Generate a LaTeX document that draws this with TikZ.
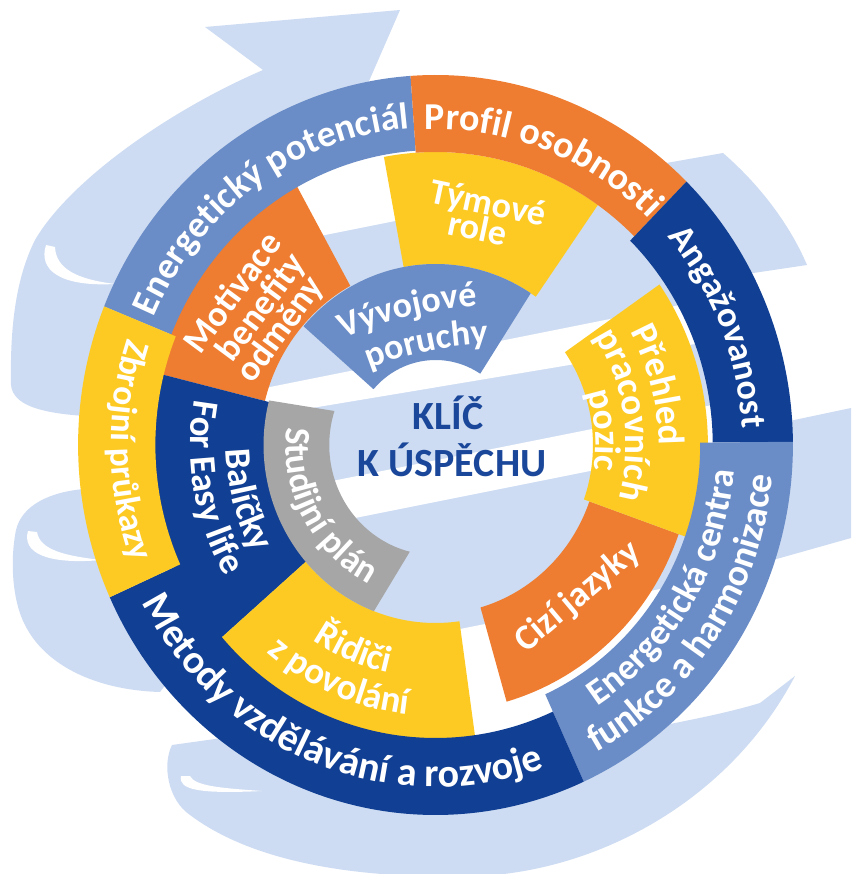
\documentclass[tikz,border=0pt]{standalone}
\usepackage{fontspec}
\setmainfont{Carlito}
\usetikzlibrary{decorations.text}
\definecolor{lb}{HTML}{CDDCF2}
\definecolor{mb}{HTML}{6A8CC7}
\definecolor{db}{HTML}{113F93}
\definecolor{orr}{HTML}{EE7D31}
\definecolor{yl}{HTML}{FDCA24}
\definecolor{gr}{HTML}{A6A6A6}
\definecolor{kt}{HTML}{1A4799}
% sector: color, a1, a2, rout, rin
\newcommand\sector[5]{\fill[#1] (#2:#4) arc[start angle=#2,end angle=#3,radius=#4] -- (#3:#5) arc[start angle=#3,end angle=#2,radius=#5] -- cycle;}
% clockwise text (tops outward): centre angle, baseline radius, text, size
\newcommand\cwtext[4]{\path[decorate,decoration={text along path,text align=center,text color=white,text={|\fontsize{#4}{#4}\selectfont\bfseries|#3}}] ({#1+70}:#2) arc[start angle={#1+70},end angle={#1-70},radius=#2];}
% counter-clockwise text (tops inward)
\newcommand\ccwtext[4]{\path[decorate,decoration={text along path,text align=center,text color=white,text={|\fontsize{#4}{#4}\selectfont\bfseries|#3}}] ({#1-70}:#2) arc[start angle={#1-70},end angle={#1+70},radius=#2];}
\tikzset{
  segtext/.style={text=white,font=\fontsize{36}{30}\selectfont\bfseries,inner sep=0pt,align=center},
  keytext/.style={text=kt,font=\fontsize{40}{44}\selectfont\bfseries,inner sep=0pt}
}
\begin{document}
\begin{tikzpicture}[x=1pt,y=-1pt]
\useasboundingbox (0,0) rectangle (851,874);
\fill[white] (0,0) rectangle (851,874);

% ---------- background swirl ----------
\fill[lb] (205,27) -- (400,10) -- (366,88) -- (330,150) -- (200,300) -- (120,420) -- (85,416)
  .. controls (40,413) and (13,405) .. (11,385)
  .. controls (10,330) and (15,280) .. (35,240)
  .. controls (70,180) and (170,110) .. (263,70) -- cycle;
\fill[white] (46,245) .. controls (38,270) and (60,287) .. (115,284)
  .. controls (75,279) and (56,268) .. (55,247) -- cycle;
\fill[lb] (84,489) .. controls (50,492) and (22,505) .. (16,530)
  .. controls (10,560) and (12,600) .. (25,625)
  .. controls (45,665) and (95,690) .. (160,692) -- (200,640) -- (120,500) -- cycle;
\fill[white] (28,531) .. controls (22,552) and (45,565) .. (102,560)
  .. controls (65,556) and (40,550) .. (37,532) -- cycle;
\fill[lb] (222,738) -- (172,745) .. controls (162,765) and (168,800) .. (190,815)
  .. controls (250,860) and (350,880) .. (480,876)
  .. controls (600,870) and (730,800) .. (795,676)
  -- (760,703) .. controls (730,712) and (700,718) .. (670,724) -- (500,700) -- (300,700) -- cycle;
\fill[white] (181,776) .. controls (178,790) and (200,794) .. (262,791)
  .. controls (220,788) and (195,786) .. (190,776) -- cycle;
\fill[lb] (655,165) -- (723,153) .. controls (760,185) and (790,225) .. (807,265) -- (713,279) -- (640,230) -- cycle;
\fill[lb] (780,423) -- (851,408) -- (851,538) -- (773,560) -- (700,500) -- cycle;

% inner disc with white stripes
\fill[lb] (435.5,445) ellipse[x radius=290, y radius=300];
\begin{scope}
\clip (435.5,445) ellipse[x radius=290, y radius=300];
\fill[white] (100,150) -- (800,10) -- (800,140) -- (100,280) -- cycle;
\fill[white] (100,421) -- (800,281) -- (800,326.5) -- (100,443.4) -- cycle;
\fill[white] (100,527.4) -- (800,387.4) -- (800,429) -- (100,569) -- cycle;
\fill[white] (100,701) -- (800,561) -- (800,900) -- (100,900) -- cycle;
\end{scope}

% ---------- rings ----------
\begin{scope}[shift={(435.5,445)}, x=0.966pt, y=1pt]
% middle ring
\sector{yl}{55}{100.5}{293}{181}
\sector{orr}{119}{166}{297}{182}
\sector{db}{166}{221}{297}{176}
\sector{yl}{221}{278}{297}{178}
\sector{orr}{286}{340.5}{267}{169}
\sector{yl}{-19.5}{34.7}{282}{163}
% inner ring
\sector{mb}{57}{139}{181}{85}
\fill[gr] (165.5:178) arc[start angle=165.5,end angle=249,radius=178] -- (256:110) arc[start angle=256,end angle=162,radius=110] -- cycle;
% outer ring
\sector{mb}{94}{158}{370}{295}
\sector{orr}{45.4}{94}{370}{293}
\sector{db}{0.5}{45.4}{370}{287}
\sector{mb}{-65.5}{0.5}{370}{274}
\sector{db}{204.3}{294.5}{370}{293}
\sector{yl}{158}{204.3}{370}{290}

% outer ring texts
\cwtext{125}{318}{Energetický potenciál}{37.5}
\cwtext{69.3}{316}{Profil osobnosti}{38}
\cwtext{22.5}{318}{Angažovanost}{36}
\ccwtext{181}{336}{Zbrojní průkazy}{35.5}
\ccwtext{248.7}{342}{Metody vzdělávání a rozvoje}{40}
\ccwtext{-31.6}{310}{Energetická centra}{36.5}
\ccwtext{-33.9}{350}{funkce a harmonizace}{37.7}
% middle ring texts
\ccwtext{196}{217}{Balíčky}{37}
\ccwtext{190.7}{254}{For Easy life}{37}
\ccwtext{248}{233}{Řidiči}{37}
\ccwtext{247.5}{271}{z povolání}{37}
\cwtext{15}{231}{Přehled}{37}
\cwtext{9}{197}{pracovních}{37}
\cwtext{5}{166}{pozic}{37}
% inner ring text
\ccwtext{209}{155}{Studijní plán}{36}
\end{scope}

\begin{scope}[shift={(500,700)}, x=1pt, y=1pt]
\cwtext{103.3}{394}{Vývojové}{36}
\cwtext{101.6}{356}{poruchy}{36}
\end{scope}

% straight rotated labels
\node[segtext,rotate=-12] (t1) at (488,205) {Týmové};
\node[segtext,rotate=-12] (t2) at (478,228) {role};
\node[segtext,rotate=53.5] (m1) at (232,292) {Motivace};
\node[segtext,rotate=53.5] (m2) at (262,308) {benefity};
\node[segtext,rotate=53.5] (m3) at (281,330) {odměny};
\node[segtext,rotate=40] (c1) at (578,597) {Cizí jazyky};

% centre
\node[keytext] (k1) at (448,413) {KLÍČ};
\node[keytext] (k2) at (452,460) {K ÚSPĚCHU};
\end{tikzpicture}
\end{document}
